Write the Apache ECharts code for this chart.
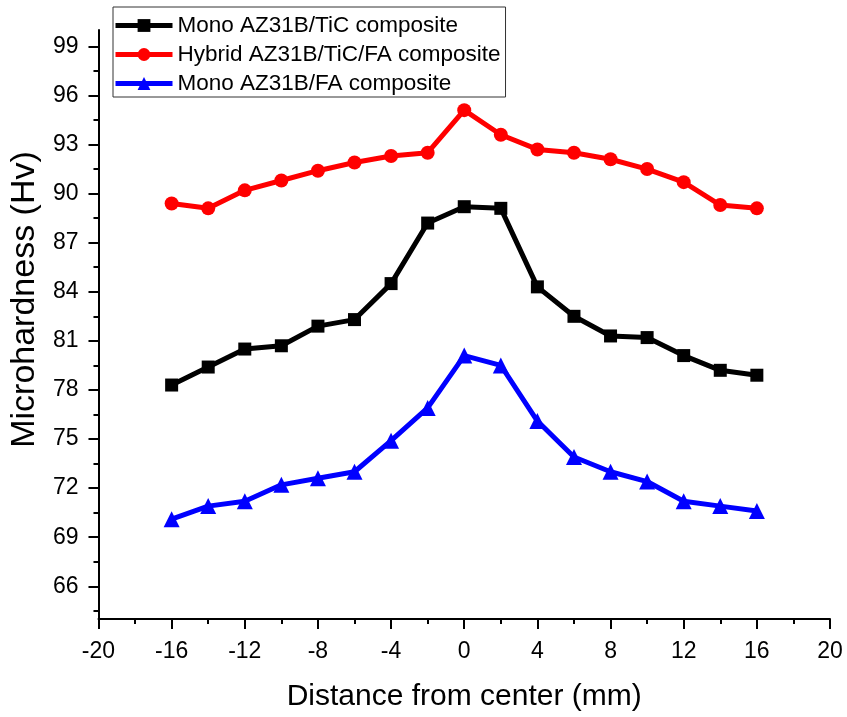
<!DOCTYPE html>
<html>
<head>
<meta charset="utf-8">
<title>Microhardness profile</title>
<script src="https://cdn.jsdelivr.net/npm/echarts@6/dist/echarts.min.js"></script>
<style>
  html, body { margin: 0; padding: 0; background: #fff; }
  #chart { width: 847px; height: 717px; }
</style>
</head>
<body>
<div id="chart"></div>
<script>
// Distance from the weld center (mm)
const distances = [-16, -14, -12, -10, -8, -6, -4, -2, 0, 2, 4, 6, 8, 10, 12, 14, 16];

// Microhardness (Hv) for each composite
const monoTiC = [78.3, 79.4, 80.5, 80.7, 81.9, 82.3, 84.5, 88.2, 89.2, 89.1, 84.3, 82.5, 81.3, 81.2, 80.1, 79.2, 78.9];
const hybridTiCFA = [89.4, 89.1, 90.2, 90.8, 91.4, 91.9, 92.3, 92.5, 95.1, 93.6, 92.7, 92.5, 92.1, 91.5, 90.7, 89.3, 89.1];
const monoFA = [70.1, 70.9, 71.2, 72.2, 72.6, 73.0, 74.9, 76.9, 80.1, 79.5, 76.1, 73.9, 73.0, 72.4, 71.2, 70.9, 70.6];

const seriesNames = ['Mono AZ31B/TiC composite', 'Hybrid AZ31B/TiC/FA composite', 'Mono AZ31B/FA composite'];

// Y axis labels (major ticks) and the half-step minor ticks between them
const yTickLabels = [66, 69, 72, 75, 78, 81, 84, 87, 90, 93, 96, 99];
const yMinorTicks = [64.5, 67.5, 70.5, 73.5, 76.5, 79.5, 82.5, 85.5, 88.5, 91.5, 94.5, 97.5];

const FONT = '"Liberation Sans", Arial, sans-serif';

function pairs(values) {
  return distances.map((d, i) => [d, values[i]]);
}

const chart = echarts.init(document.getElementById('chart'), null, { renderer: 'canvas' });

const axisLineStyle = { color: '#000', width: 2 };
const LINE_WIDTH = 5;

const option = {
  backgroundColor: '#fff',
  animation: false,
  textStyle: { fontFamily: FONT, color: '#000' },
  grid: { left: 97, right: 17, top: 30, bottom: 96, containLabel: false },
  legend: {
    orient: 'vertical',
    left: 113,
    top: 7,
    padding: [7, 5, 2, 0],
    itemGap: 6,
    itemWidth: 57,
    itemHeight: 16,
    borderColor: '#333',
    borderWidth: 1,
    lineStyle: { width: LINE_WIDTH },
    textStyle: { fontFamily: FONT, fontSize: 22.5, color: '#000' },
    data: seriesNames
  },
  xAxis: {
    type: 'value',
    min: -20,
    max: 20,
    interval: 4,
    name: 'Distance from center (mm)',
    nameLocation: 'middle',
    nameGap: 63,
    nameTextStyle: { fontFamily: FONT, fontSize: 30, color: '#000' },
    axisLine: { show: true, onZero: false, lineStyle: axisLineStyle },
    axisTick: { show: true, inside: false, length: 10, lineStyle: axisLineStyle },
    minorTick: { show: true, splitNumber: 2, length: 5, lineStyle: axisLineStyle },
    axisLabel: { fontFamily: FONT, fontSize: 23, color: '#000', margin: 21 },
    splitLine: { show: false },
    minorSplitLine: { show: false }
  },
  yAxis: [
    {
      type: 'value',
      min: 64,
      max: 100,
      position: 'left',
      name: 'Microhardness (Hv)',
      nameLocation: 'middle',
      nameGap: 39,
      nameTextStyle: { fontFamily: FONT, fontSize: 34, color: '#000', padding: [0, 0, 0, 50] },
      axisLine: { show: true, onZero: false, lineStyle: axisLineStyle },
      axisTick: { show: true, inside: false, length: 10, lineStyle: axisLineStyle, customValues: yTickLabels },
      axisLabel: { fontFamily: FONT, fontSize: 23, color: '#000', margin: 20, customValues: yTickLabels },
      splitLine: { show: false }
    },
    {
      // minor ticks only, sharing the same scale
      type: 'value',
      min: 64,
      max: 100,
      position: 'left',
      offset: 0,
      axisLine: { show: false, onZero: false },
      axisTick: { show: true, inside: false, length: 5, lineStyle: axisLineStyle, customValues: yMinorTicks },
      axisLabel: { show: false },
      splitLine: { show: false }
    }
  ],
  series: [
    {
      name: seriesNames[0],
      type: 'line',
      data: pairs(monoTiC),
      symbol: 'rect',
      symbolSize: 13,
      color: '#000000',
      lineStyle: { width: LINE_WIDTH, color: '#000000' },
      itemStyle: { color: '#000000' }
    },
    {
      name: seriesNames[1],
      type: 'line',
      data: pairs(hybridTiCFA),
      symbol: 'circle',
      symbolSize: 14,
      color: '#ff0000',
      lineStyle: { width: LINE_WIDTH, color: '#ff0000' },
      itemStyle: { color: '#ff0000' }
    },
    {
      name: seriesNames[2],
      type: 'line',
      data: pairs(monoFA),
      symbol: 'triangle',
      symbolSize: 16,
      color: '#0000ff',
      lineStyle: { width: LINE_WIDTH, color: '#0000ff' },
      itemStyle: { color: '#0000ff' }
    }
  ]
};

chart.setOption(option);
</script>
</body>
</html>
